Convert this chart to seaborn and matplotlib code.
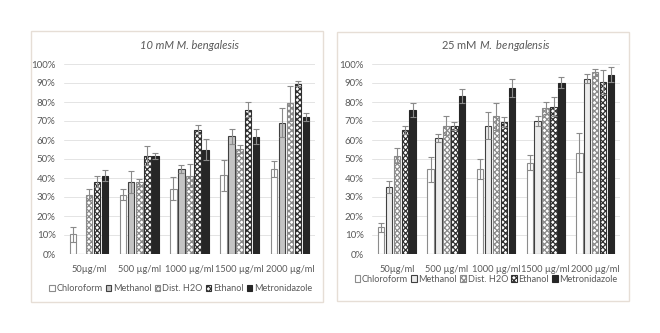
import matplotlib
matplotlib.use("Agg")
import matplotlib.pyplot as plt
import seaborn as sns
import pandas as pd
import numpy as np
from matplotlib.patches import Rectangle
from matplotlib.ticker import PercentFormatter

categories = ["50µg/ml", "500 µg/ml", "1000 µg/ml", "1500 µg/ml", "2000 µg/ml"]
solvents = ["Chloroform", "Methanol", "Dist. H2O", "Ethanol", "Metronidazole"]

# 10 mM panel: values and error (percent)
v10_chloroform = [10.4, 31.2, 34.4, 41.4, 44.7]
v10_methanol = [0.0, 37.9, 44.9, 61.9, 69.1]
v10_dist = [31.1, 37.7, 41.2, 55.1, 79.3]
v10_ethanol = [38.1, 51.8, 65.4, 76.0, 89.6]
v10_metro = [41.2, 51.6, 54.9, 61.8, 72.1]
e10_chloroform = [4.0, 2.8, 6.0, 8.1, 4.1]
e10_methanol = [0.0, 6.0, 2.1, 3.9, 7.6]
e10_dist = [2.9, 1.9, 6.0, 2.1, 9.1]
e10_ethanol = [2.9, 5.0, 2.3, 3.8, 1.3]
e10_metro = [3.0, 1.7, 5.5, 4.0, 2.3]

# 25 mM panel
v25_chloroform = [14.0, 44.6, 44.7, 48.1, 53.3]
v25_methanol = [35.4, 61.2, 67.5, 70.0, 92.3]
v25_dist = [51.8, 67.5, 72.5, 76.7, 95.6]
v25_ethanol = [65.1, 67.2, 69.3, 77.5, 90.4]
v25_metro = [75.8, 83.2, 87.2, 90.2, 94.4]
e25_chloroform = [2.3, 6.6, 5.1, 3.8, 10.2]
e25_methanol = [3.2, 2.0, 7.1, 2.8, 2.3]
e25_dist = [4.0, 5.1, 7.1, 3.1, 1.9]
e25_ethanol = [2.1, 2.1, 2.6, 5.0, 6.4]
e25_metro = [3.8, 3.6, 4.7, 2.8, 3.8]

yticks = [0, 10, 20, 30, 40, 50, 60, 70, 80, 90, 100]

sns.set_theme(style="white")
plt.rcParams["font.family"] = ["Lato", "DejaVu Sans"]
plt.rcParams["hatch.linewidth"] = 0.9
plt.rcParams["mathtext.fontset"] = "custom"
plt.rcParams["mathtext.it"] = "Lato:italic"
plt.rcParams["mathtext.rm"] = "Lato"

txt = "#595959"

fig = plt.figure(figsize=(6.6, 3.33), dpi=100)
fig.patch.set_facecolor("white")

# panel frames
for (x0, y0, x1, y1) in [(31, 31, 323, 302), (337, 32, 629, 301)]:
    fig.patches.append(Rectangle((x0 / 660, 1 - y1 / 333), (x1 - x0) / 660, (y1 - y0) / 333,
                                 transform=fig.transFigure, fill=False,
                                 edgecolor="#e6ded6", linewidth=1.0))

styles = {
    "Chloroform": dict(face="white", edge="#8c8c8c", hatch=None),
    "Methanol": dict(face="#c4c4c4", edge="#404040", hatch=None),
    "Dist. H2O": dict(face="white", edge="#8a8a8a", hatch="xxxxxx"),
    "Ethanol": dict(face="white", edge="#303030", hatch="xxxxxx"),
    "Metronidazole": dict(face="#262626", edge="#262626", hatch=None),
}


def draw(ax, vals, errs, methanol_face):
    rows = []
    for s, v in zip(solvents, vals):
        for c, val in zip(categories, v):
            rows.append(dict(cat=c, solvent=s, val=val))
    df = pd.DataFrame(rows)
    pal = {s: styles[s]["face"] for s in solvents}
    pal["Methanol"] = methanol_face
    sns.barplot(data=df, x="cat", y="val", hue="solvent", order=categories,
                hue_order=solvents, palette=pal, ax=ax, width=0.8, gap=0.2,
                legend=False, zorder=3, saturation=1)
    bars = list(ax.containers)
    for i, cont in enumerate(bars):
        st = styles[solvents[i]]
        for p in cont.patches:
            p.set_edgecolor(st["edge"])
            p.set_linewidth(0.8)
            if st["hatch"]:
                p.set_hatch(st["hatch"])
        xs = np.array([p.get_x() + p.get_width() / 2 for p in cont.patches])
        v = np.array(vals[i])
        e = np.array(errs[i])
        m = v > 0
        ax.errorbar(xs[m], v[m], yerr=e[m], fmt="none", ecolor="#8a8a8a",
                    elinewidth=0.8, capsize=2, capthick=0.8, zorder=4)
    ax.set_ylim(0, 100)
    ax.set_yticks(yticks)
    ax.yaxis.set_major_formatter(PercentFormatter(decimals=0))
    ax.grid(axis="y", color="#e4e4e4", linewidth=0.7, zorder=0)
    ax.set_axisbelow(True)
    for sp in ax.spines.values():
        sp.set_visible(False)
    ax.set_xlabel("")
    ax.set_ylabel("")
    ax.tick_params(axis="y", labelsize=7, colors=txt, length=0, pad=6)
    ax.tick_params(axis="x", labelsize=6.7, colors=txt, length=0, pad=8)
    ax.set_xlim(-0.5, 4.5)
    return bars


leg_kw = dict(ncol=5, loc="upper center", frameon=False, fontsize=6.6,
              handlelength=0.6, handleheight=0.7, handletextpad=0.2,
              columnspacing=0.35, labelcolor=txt, borderaxespad=0)

ax1 = fig.add_axes([64 / 660, 79 / 333, 251 / 660, 190 / 333])
b1 = draw(ax1, [v10_chloroform, v10_methanol, v10_dist, v10_ethanol, v10_metro],
          [e10_chloroform, e10_methanol, e10_dist, e10_ethanol, e10_metro], "#c4c4c4")
ax1.set_title("10 mM M. bengalesis", fontsize=8, style="italic", color=txt, pad=11)
ax1.legend(b1, solvents, bbox_to_anchor=(0.465, -0.14), **leg_kw)

ax2 = fig.add_axes([372 / 660, 79 / 333, 248 / 660, 190 / 333])
b2 = draw(ax2, [v25_chloroform, v25_methanol, v25_dist, v25_ethanol, v25_metro],
          [e25_chloroform, e25_methanol, e25_dist, e25_ethanol, e25_metro], "#ececec")
ax2.set_title(r"25 mM $\it{M.\ bengalensis}$", fontsize=8, color=txt, pad=11)
ax2.legend(b2, solvents, bbox_to_anchor=(0.46, -0.09), **leg_kw)

fig.savefig("out.png", dpi=100, facecolor="white")
